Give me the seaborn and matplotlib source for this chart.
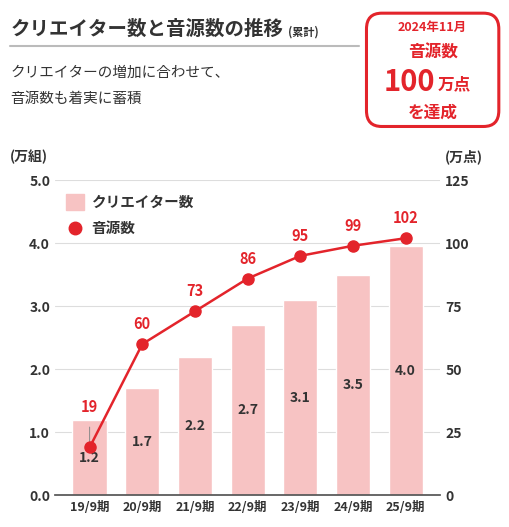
import matplotlib
matplotlib.use("Agg")
import matplotlib.pyplot as plt
import seaborn as sns
import pandas as pd
from matplotlib.patches import FancyBboxPatch

periods = ["19/9期", "20/9期", "21/9期", "22/9期", "23/9期", "24/9期", "25/9期"]
creators = [1.2, 1.7, 2.2, 2.7, 3.1, 3.5, 3.95]
creator_labels = ["1.2", "1.7", "2.2", "2.7", "3.1", "3.5", "4.0"]
sounds = [19, 60, 73, 86, 95, 99, 102]

sns.set_theme(style="white")
plt.rcParams['font.family'] = ['Noto Sans CJK JP', 'DejaVu Sans']

RED = "#e3242b"
PINK = "#f7c3c3"
DARK = "#333333"

fig = plt.figure(figsize=(5.09, 5.27), dpi=100)
ax = fig.add_axes([0.108, 0.06, 0.757, 0.598])
df = pd.DataFrame({"period": periods, "creators": creators})
sns.barplot(data=df, x="period", y="creators", color=PINK, width=0.65, ax=ax, saturation=1)
ax.set_ylim(0, 5)
ax.set_yticks([0, 1, 2, 3, 4, 5])
ax.set_yticklabels([f"{v:.1f}" for v in range(6)], fontsize=10, fontweight="bold", color=DARK)
ax.set_xlabel(""); ax.set_ylabel("")
ax.tick_params(axis="x", labelsize=9, colors=DARK, length=0, pad=4)
for t in ax.get_xticklabels():
    t.set_fontweight("bold")
for s in ["top", "right", "left"]:
    ax.spines[s].set_visible(False)
ax.spines["bottom"].set_color("#555555")
ax.grid(axis="y", color="#dddddd", lw=0.8)
ax.set_axisbelow(True)
ax.tick_params(axis="y", length=0)
for i, (v, lab) in enumerate(zip(creators, creator_labels)):
    ax.text(i, 0.6 if i == 0 else v / 2, lab, ha="center", va="center", fontsize=10,
            fontweight="bold", color=DARK, zorder=5)

ax2 = ax.twinx()
ax2.plot(range(len(sounds)), sounds, color=RED, lw=1.8, marker="o", ms=8, zorder=6)
ax2.set_ylim(0, 125)
ax2.set_yticks([0, 25, 50, 75, 100, 125])
ax2.set_yticklabels([str(v) for v in [0, 25, 50, 75, 100, 125]], fontsize=10, fontweight="bold", color=DARK)
ax2.tick_params(axis="y", length=0)
for s in ["top", "right", "left", "bottom"]:
    ax2.spines[s].set_visible(False)
label_offsets_px = [40, 20, 20, 20, 20, 20, 20]
for i, (v, off) in enumerate(zip(sounds, label_offsets_px)):
    ax2.annotate(str(v), (i, v), xytext=(0, off * 0.72), textcoords="offset points",
                 ha="center", va="center", fontsize=10.5, fontweight="bold", color=RED,
                 arrowprops=dict(arrowstyle="-", color="#888888", lw=0.7, shrinkA=6, shrinkB=4),
                 zorder=4)

fig.text(0.02, 0.695, "(万組)", fontsize=10, fontweight="bold", color=DARK)
fig.text(0.875, 0.695, "(万点)", fontsize=10, fontweight="bold", color=DARK)

# legend
fig.patches.append(plt.Rectangle((0.13, 0.602), 0.035, 0.03, transform=fig.transFigure, color=PINK))
fig.text(0.18, 0.617, "クリエイター数", fontsize=10.5, fontweight="bold", color=DARK, va="center")
fig.lines.append(plt.Line2D([0.147], [0.568], transform=fig.transFigure, marker="o", ms=9, color=RED))
fig.text(0.18, 0.568, "音源数", fontsize=10.5, fontweight="bold", color=DARK, va="center")

# title
fig.text(0.02, 0.945, "クリエイター数と音源数の推移", fontsize=14, fontweight="bold", color=DARK, va="center")
fig.text(0.565, 0.94, "(累計)", fontsize=8, fontweight="bold", color=DARK, va="center")
fig.lines.append(plt.Line2D([0.02, 0.705], [0.912, 0.912], transform=fig.transFigure, color="#bbbbbb", lw=1.5))
fig.text(0.02, 0.862, "クリエイターの増加に合わせて、", fontsize=10.5, color=DARK, va="center")
fig.text(0.02, 0.812, "音源数も着実に蓄積", fontsize=10.5, color=DARK, va="center")

box = FancyBboxPatch((0.72, 0.76), 0.26, 0.215, boxstyle="round,pad=0,rounding_size=0.03",
                     transform=fig.transFigure, fc="white", ec=RED, lw=2.2)
fig.patches.append(box)
fig.text(0.85, 0.948, "2024年11月", fontsize=9, fontweight="bold", color=RED, ha="center", va="center")
fig.text(0.85, 0.9, "音源数", fontsize=12, fontweight="bold", color=RED, ha="center", va="center")
fig.text(0.855, 0.845, "100", fontsize=21, fontweight="bold", color=RED, ha="right", va="center")
fig.text(0.86, 0.84, "万点", fontsize=12, fontweight="bold", color=RED, ha="left", va="center")
fig.text(0.85, 0.787, "を達成", fontsize=12, fontweight="bold", color=RED, ha="center", va="center")

fig.savefig("out.png", dpi=100)
